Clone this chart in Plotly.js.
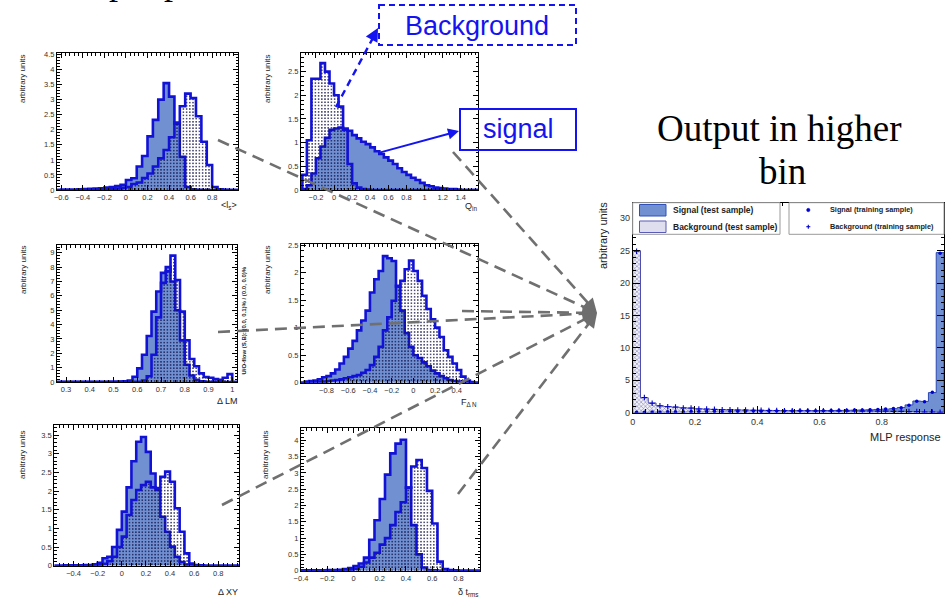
<!DOCTYPE html>
<html><head><meta charset="utf-8">
<script src="https://cdn.plot.ly/plotly-3.0.1.min.js"></script>
<style>html,body{margin:0;padding:0;background:#fff}#chart{width:945px;height:599px}</style>
</head><body><div id="chart"></div>
<script>
// ---------------- DATA ----------------
// Panel 1: <l_s>  (bins of 0.05 starting at -0.6)
const lsStart = -0.6, lsWidth = 0.05;
const lsSignal = [0.01,0.01,0.01,0.02,0.03,0.04,0.05,0.06,0.08,0.10,0.13,0.17,0.33,0.39,0.78,1.13,1.78,2.33,3.00,3.55,3.10,2.20,1.10,0.10,0.02,0.01,0,0,0,0,0,0];
const lsBackground = [0.01,0.01,0.01,0.01,0.01,0.01,0.01,0.02,0.02,0.03,0.05,0.07,0.10,0.20,0.25,0.40,0.55,0.78,1.05,1.33,1.75,2.24,2.78,3.20,3.05,2.45,1.60,0.83,0.10,0.02,0.01,0];

// Panel 2: Q_in (bins of 0.05 starting at -0.35)
const qStart = -0.35, qWidth = 0.05;
const qSignal = [0.02,0.10,0.35,0.67,0.92,1.10,1.27,1.30,1.32,1.30,1.25,1.16,1.09,1.02,0.97,0.90,0.82,0.76,0.69,0.62,0.55,0.46,0.38,0.32,0.26,0.21,0.15,0.10,0.08,0.05,0.04,0.03,0.02,0.02,0.01,0];
const qBackground = [0.32,1.05,2.35,2.35,2.68,2.50,2.25,2.00,1.76,1.27,0.55,0.14,0.05,0.02,0.01,0,0,0,0,0,0,0,0,0,0,0,0,0,0,0,0,0,0,0,0,0];

// Panel 3: Delta LM (bins of 0.02 starting at 0.26)
const lmStart = 0.26, lmWidth = 0.02;
const lmSignal = [0,0.01,0.01,0.01,0.01,0.01,0.01,0.01,0.01,0.01,0.01,0.02,0.02,0.03,0.05,0.10,0.37,0.95,1.90,3.20,4.90,6.30,7.60,8.00,7.00,5.00,2.90,1.20,0.45,0.15,0.05,0.02,0.01,0,0,0,0];
const lmBackground = [0,0,0,0,0,0,0,0,0,0,0,0.01,0.01,0.01,0.01,0.01,0.01,0.02,0.10,0.40,1.90,4.50,6.90,7.70,8.80,7.10,4.90,2.90,1.60,1.10,0.60,0.35,0.30,0.20,0.15,0.30,0.55];

// Panel 4: F_{Delta N} (bins of 0.04 starting at -1.0)
const fStart = -1.0, fWidth = 0.04;
const fSignal = [0.02,0.03,0.04,0.06,0.10,0.12,0.17,0.24,0.35,0.47,0.62,0.76,0.95,1.13,1.31,1.64,1.88,2.03,2.30,2.26,2.21,1.75,1.31,0.90,0.65,0.50,0.45,0.37,0.30,0.22,0.17,0.12,0.08,0.05,0.03,0.02,0.01,0.01,0,0];
const fBackground = [0,0,0.01,0.01,0.02,0.03,0.04,0.05,0.06,0.08,0.10,0.12,0.14,0.18,0.23,0.32,0.47,0.65,0.95,1.19,1.49,1.76,1.85,2.06,2.22,2.03,1.85,1.58,1.34,1.15,1.00,0.83,0.59,0.47,0.35,0.23,0.11,0.04,0.01,0];

// Panel 5: Delta XY (bins of 0.04 starting at -0.56)
const xyStart = -0.56, xyWidth = 0.04;
const xySignal = [0,0,0.01,0.01,0.01,0.01,0.02,0.02,0.04,0.08,0.20,0.24,0.50,0.96,1.45,2.10,2.80,3.32,3.45,3.05,2.47,2.03,1.31,0.91,0.51,0.24,0.10,0.03,0.01,0,0,0,0,0,0,0,0,0];
const xyBackground = [0,0,0,0,0,0,0.01,0.01,0.01,0.02,0.05,0.12,0.24,0.50,0.78,1.36,1.76,2.03,2.16,2.25,2.10,2.08,2.38,2.52,2.25,1.54,0.91,0.33,0.06,0.02,0.01,0,0,0,0,0,0,0];

// Panel 6: delta t_rms (bins of 0.04 starting at -0.4)
const tStart = -0.4, tWidth = 0.04;
const tSignal = [0.01,0.01,0.01,0.01,0.01,0.02,0.02,0.03,0.05,0.08,0.14,0.22,0.40,0.95,1.55,2.20,2.95,3.60,3.90,4.02,2.55,1.40,0.50,0.10,0.02,0.01,0,0,0,0,0,0,0,0];
const tBackground = [0,0,0,0,0,0.01,0.01,0.01,0.02,0.03,0.06,0.12,0.25,0.40,0.55,0.80,1.00,1.40,1.80,2.10,2.55,3.20,3.40,3.15,2.45,1.45,0.28,0.05,0.02,0.01,0,0,0,0];

// Panel 7: MLP response (40 bins of 0.025 starting at 0)
const mlpStart = 0, mlpWidth = 0.025;
const mlpSignalTest = [0.05,0.08,0.10,0.12,0.13,0.15,0.16,0.17,0.18,0.20,0.20,0.21,0.22,0.22,0.23,0.24,0.24,0.25,0.26,0.27,0.28,0.29,0.30,0.31,0.32,0.33,0.35,0.37,0.39,0.42,0.45,0.50,0.55,0.62,0.80,1.20,1.80,1.75,3.10,24.7];
const mlpBackgroundTest = [25.0,2.30,1.50,1.05,0.95,0.85,0.75,0.70,0.60,0.55,0.50,0.48,0.45,0.42,0.40,0.38,0.36,0.35,0.33,0.32,0.30,0.30,0.29,0.28,0.28,0.27,0.27,0.26,0.26,0.25,0.25,0.24,0.23,0.22,0.20,0.18,0.15,0.12,0.10,0.08];
const mlpSignalTrain = [0.06,0.07,0.11,0.12,0.14,0.15,0.15,0.18,0.19,0.19,0.21,0.20,0.23,0.22,0.22,0.25,0.24,0.26,0.25,0.28,0.27,0.30,0.29,0.32,0.31,0.34,0.34,0.38,0.40,0.41,0.46,0.49,0.56,0.63,0.78,1.15,1.75,1.70,3.15,24.6];
const mlpBackgroundTrain = [24.9,2.35,1.45,1.08,0.92,0.88,0.73,0.72,0.58,0.56,0.52,0.46,0.46,0.41,0.41,0.37,0.37,0.34,0.34,0.31,0.31,0.29,0.30,0.27,0.29,0.26,0.28,0.25,0.27,0.24,0.26,0.23,0.24,0.21,0.21,0.17,0.16,0.11,0.11,0.07];

// Tick labels shown on each panel: [first, last, step]
const xTickSpec = [[-0.6,0.8,0.2],[-0.2,1.4,0.2],[0.3,1.0,0.1],[-0.8,0.4,0.2],[-0.4,0.8,0.2],[-0.4,0.8,0.2],[0,1,0.2]];
const yTickSpec = [[0,4.5,0.5],[0,2.5,0.5],[0,9,1],[0,2.5,0.5],[0,3.5,0.5],[0,4,0.5],[0,30,5]];

// Text labels
const xTitles = ['&lt;l<sub>s</sub>&gt;', 'Q<sub>in</sub>', '\u0394 LM', 'F<sub>\u0394 N</sub>', '\u0394 XY', '\u03b4 t<sub>rms</sub>', 'MLP response'];
const yTitle = 'arbitrary units';
const legendNames = ['Signal (test sample)', 'Background (test sample)', 'Signal (training sample)', 'Background (training sample)'];

// ---------------- STYLE / LAYOUT ----------------
const W = 945, H = 599;
const PX = x => x / W, PY = y => 1 - y / H;
const OUTLINE = '#1212d6', SIGFILL = '#7090d2', DOTS = '#14144a';
const FONT = 'Liberation Sans, Arial, sans-serif';
const SERIF = 'Liberation Serif, Times New Roman, serif';

const panels = [
  {px:[57,238],    py:[53,190],    xr:[-0.64,1.04],   yr:[0,4.55], sig:[lsStart,lsWidth,lsSignal], bkg:[lsStart,lsWidth,lsBackground]},
  {px:[301,478],   py:[52.7,190],  xr:[-0.365,1.59],  yr:[0,2.9],  sig:[qStart,qWidth,qSignal], bkg:[qStart,qWidth,qBackground]},
  {px:[57,237],    py:[245,382],   xr:[0.262,1.02],   yr:[0,9.54], sig:[lmStart,lmWidth,lmSignal], bkg:[lmStart,lmWidth,lmBackground]},
  {px:[301,478],   py:[244,382.7], xr:[-1.035,0.595], yr:[0,2.52], sig:[fStart,fWidth,fSignal], bkg:[fStart,fWidth,fBackground]},
  {px:[54.3,239.3],py:[425,565.7], xr:[-0.56,0.975],  yr:[0,3.77], sig:[xyStart,xyWidth,xySignal], bkg:[xyStart,xyWidth,xyBackground]},
  {px:[301,480],   py:[428,570.7], xr:[-0.4,0.964],   yr:[0,4.38], sig:[tStart,tWidth,tSignal], bkg:[tStart,tWidth,tBackground]},
  {px:[632.7,944], py:[202.7,412.7], xr:[0,1],        yr:[0,32.4], sig:[mlpStart,mlpWidth,mlpSignalTest], bkg:[mlpStart,mlpWidth,mlpBackgroundTest]}
];

function ticksFrom(spec) {
  const out = [];
  const n = Math.round((spec[1] - spec[0]) / spec[2]);
  for (let i = 0; i <= n; i++) out.push(+(spec[0] + i * spec[2]).toFixed(6));
  return out;
}
function stepXY(start, width, vals, rng) {
  const x = [rng[0]], y = [0];
  for (let i = 0; i < vals.length; i++) { x.push(start + i * width); y.push(vals[i]); }
  x.push(start + vals.length * width); y.push(0);
  x.push(rng[1]); y.push(0);
  return {x, y};
}

const data = [];
const layout = {
  width: W, height: H, margin: {l:0, r:0, t:0, b:0},
  paper_bgcolor: '#fff', plot_bgcolor: '#fff',
  font: {family: FONT, color: '#222'},
  showlegend: false, hovermode: false,
  annotations: [], shapes: []
};

panels.forEach((p, k) => {
  const n = k + 1, sfx = n === 1 ? '' : String(n);
  const big = n === 7;
  const lw = big ? 1 : 2.6;
  const s = stepXY(p.sig[0], p.sig[1], p.sig[2], p.xr);
  const b = stepXY(p.bkg[0], p.bkg[1], p.bkg[2], p.xr);
  data.push({type:'scatter', mode:'lines', x:s.x, y:s.y, xaxis:'x'+sfx, yaxis:'y'+sfx,
    line:{shape:'hv', color: big ? '#2c48b0' : OUTLINE, width: lw},
    fill:'tozeroy', fillcolor: SIGFILL, name: legendNames[0]});
  data.push({type:'scatter', mode:'lines', x:b.x, y:b.y, xaxis:'x'+sfx, yaxis:'y'+sfx,
    line:{shape:'hv', color: big ? '#4a4ab0' : OUTLINE, width: lw},
    fill:'tozeroy', fillcolor:'rgba(0,0,0,0)',
    fillpattern: big ? {shape:'x', fgcolor:'#8585b5', bgcolor:'rgba(232,232,244,0.6)', size:3, solidity:0.35}
                     : {shape:'.', fgcolor: DOTS, bgcolor:'rgba(0,0,0,0)', size:3.2, solidity:0.2},
    name: legendNames[1]});
  const fs = big ? 9 : 7.5;
  const xs = xTickSpec[k], ys = yTickSpec[k];
  const common = {showgrid:false, zeroline:false, showline:true, linecolor:'#000', linewidth:1,
    mirror:'allticks', ticks:'inside', ticklen: big ? 7 : 5, tickwidth:1, tickcolor:'#000',
    tickfont:{size:fs, color:'#333', family:FONT}, fixedrange:true, tickmode:'array'};
  layout['xaxis'+sfx] = Object.assign({}, common, {domain:[PX(p.px[0]), PX(p.px[1])], range:p.xr,
    anchor:'y'+sfx, tickvals: ticksFrom(xs),
    minor:{ticks:'inside', ticklen: big ? 3.5 : 2.5, tickcolor:'#000', tickmode:'linear', dtick:xs[2]/5, tick0:0, showgrid:false}});
  layout['yaxis'+sfx] = Object.assign({}, common, {domain:[PY(p.py[1]), PY(p.py[0])], range:p.yr,
    anchor:'x'+sfx, tickvals: ticksFrom(ys),
    minor:{ticks:'inside', ticklen: big ? 3.5 : 2.5, tickcolor:'#000', tickmode:'linear', dtick:ys[2]/5, tick0:0, showgrid:false}});
});

// training sample markers (MLP)
const centers = mlpSignalTrain.map((_, i) => mlpStart + (i + 0.5) * mlpWidth);
data.push({type:'scatter', mode:'markers', x:centers, y:mlpSignalTrain, xaxis:'x7', yaxis:'y7',
  marker:{symbol:'circle', size:3.5, color:'#0000d0'}, name: legendNames[2], cliponaxis:true});
data.push({type:'scatter', mode:'markers', x:centers, y:mlpBackgroundTrain, xaxis:'x7', yaxis:'y7',
  marker:{symbol:'cross-thin', size:4, color:'#0000d0', line:{color:'#0000d0', width:1.1}}, name: legendNames[3], cliponaxis:true});

// ---------------- ANNOTATIONS ----------------
const A = layout.annotations, S = layout.shapes;
function txt(x, y, text, o) { A.push(Object.assign({xref:'paper', yref:'paper', x:PX(x), y:PY(y), text, showarrow:false,
  xanchor:'center', yanchor:'middle', font:{size:8, family:FONT, color:'#222'}}, o || {})); }
function rect(x0, y0, x1, y1, line, fill) { S.push({type:'rect', xref:'paper', yref:'paper', x0:PX(x0), x1:PX(x1), y0:PY(y0), y1:PY(y1), line, fillcolor:fill || 'rgba(0,0,0,0)', layer:'above'}); }
function seg(x0, y0, x1, y1, line) { S.push({type:'line', xref:'paper', yref:'paper', x0:PX(x0), y0:PY(y0), x1:PX(x1), y1:PY(y1), line, layer:'above'}); }

// MLP legends (two boxes)
rect(632.7, 202.7, 780, 234.3, {color:'#9a9a9a', width:1}, '#fff');
rect(639.5, 204.5, 666, 216, {color:'#3050b8', width:1}, SIGFILL);
rect(639.5, 221, 666, 232.5, {color:'#5a5ab8', width:1}, '#dedeef');
txt(671, 210, legendNames[0], {xanchor:'left', font:{size:8.5, family:FONT, weight:'bold', color:'#222'}});
txt(671, 226.7, legendNames[1], {xanchor:'left', font:{size:8.5, family:FONT, weight:'bold', color:'#222'}});
rect(789, 202.7, 944, 234.3, {color:'#9a9a9a', width:1}, '#fff');
S.push({type:'circle', xref:'paper', yref:'paper', x0:PX(806.6), x1:PX(810), y0:PY(208.3), y1:PY(211.7), line:{color:'#0000d0', width:0.5}, fillcolor:'#0000d0', layer:'above'});
seg(806.3, 226.7, 810.3, 226.7, {color:'#0000d0', width:1.1});
seg(808.3, 224.7, 808.3, 228.7, {color:'#0000d0', width:1.1});
txt(827.7, 210, legendNames[2], {xanchor:'left', font:{size:7.3, family:FONT, weight:'bold', color:'#222'}});
txt(827.7, 226.7, legendNames[3], {xanchor:'left', font:{size:7.3, family:FONT, weight:'bold', color:'#222'}});

// y titles (rotated)
[[22,79],[267,79],[23,270],[267,270],[22,455],[265,455]].forEach(c => txt(c[0], c[1], yTitle, {textangle:-90}));
txt(603, 236, yTitle, {textangle:-90, font:{size:11, family:FONT, color:'#222'}});
// x titles (right aligned)
const xt = [[239,206],[479,207],[240,401],[479,402],[240,592],[481,592]];
xt.forEach((c, i) => txt(c[0], c[1], xTitles[i], {xanchor:'right', font:{size:9, family:FONT, color:'#222'}}));
txt(943, 437, xTitles[6], {xanchor:'right', font:{size:11, family:FONT, color:'#222'}});
// under/overflow text
txt(243.5, 321, 'U/O-flow (S,B): (0.0, 0.1)% / (0.0, 0.0)%', {textangle:-90, font:{size:6, family:FONT, color:'#222', weight:'bold'}});
// big serif texts
txt(200, -17.5, 'Input parameters', {font:{size:36, family:SERIF, color:'#000'}});
txt(779, 128.5, 'Output in higher', {font:{size:37, family:SERIF, color:'#000'}});
txt(782, 172, 'bin', {font:{size:37, family:SERIF, color:'#000'}});

// Background / signal boxes
const BLUE = '#1414f0';
rect(379, 5, 576, 45, {color:BLUE, width:2, dash:'6px,4px'});
txt(477, 26, 'Background', {font:{size:27, family:FONT, color:BLUE}});
rect(460, 109, 576, 150, {color:BLUE, width:2});
txt(518, 129, 'signal', {font:{size:27, family:FONT, color:BLUE}});
// blue dashed arrow to Background
seg(336, 107, 374, 36, {color:BLUE, width:2.4, dash:'7px,5px'});
A.push({xref:'paper', yref:'paper', x:PX(378), y:PY(28), ax:-6, ay:11, text:'', showarrow:true, arrowhead:2, arrowsize:1.1, arrowwidth:2.4, arrowcolor:BLUE, standoff:0});
// blue solid arrow to signal
A.push({xref:'paper', yref:'paper', x:PX(459), y:PY(131), ax:-81, ay:22, text:'', showarrow:true, arrowhead:2, arrowsize:1.1, arrowwidth:2, arrowcolor:BLUE, standoff:0});

// gray dashed arrows to MLP output
const apex = [597, 313];
const sources = [[218,140],[453,152],[218,332],[462,311],[222,505],[458,494]];
sources.forEach(sr => {
  const dx = sr[0] - apex[0], dy = sr[1] - apex[1], L = Math.hypot(dx, dy);
  seg(sr[0], sr[1], apex[0] + dx / L * 10, apex[1] + dy / L * 10, {color:'#707070', width:2.6, dash:'12px,7px'});
  A.push({xref:'paper', yref:'paper', x:PX(apex[0]), y:PY(apex[1]), ax:dx / L * 14, ay:dy / L * 14, text:'', showarrow:true,
    arrowhead:2, arrowsize:1.1, arrowwidth:2.6, arrowcolor:'#6e6e6e', standoff:0});
});

Plotly.newPlot('chart', data, layout, {staticPlot:true, displayModeBar:false});
</script>
</body></html>
